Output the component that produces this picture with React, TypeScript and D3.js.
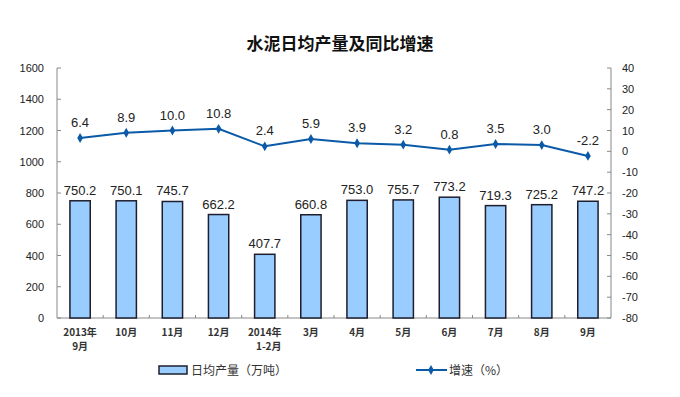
import React from 'react';
import * as d3 from 'd3';

// data
const categories = ['2013年\n9月', '10月', '11月', '12月', '2014年\n1-2月', '3月', '4月', '5月', '6月', '7月', '8月', '9月'];
const output = [750.2, 750.1, 745.7, 662.2, 407.7, 660.8, 753.0, 755.7, 773.2, 719.3, 725.2, 747.2];
const growth = [6.4, 8.9, 10.0, 10.8, 2.4, 5.9, 3.9, 3.2, 0.8, 3.5, 3.0, -2.2];
const leftTicks = [0, 200, 400, 600, 800, 1000, 1200, 1400, 1600];
const rightTicks = [40, 30, 20, 10, 0, -10, -20, -30, -40, -50, -60, -70, -80];

const W = 680;
const H = 397;
const left = 57;
const right = 611;
const top = 68;
const bottom = 318;

const font = 'Arial, "Liberation Sans", sans-serif';
const barFill = '#99ccff';
const lineColor = '#0a5aa8';

const diamond = d3.symbol().type(d3.symbolDiamond).size(28)();

const App = () => {
  const x = d3.scaleBand().domain(categories).range([left, right]).paddingInner(0.56).paddingOuter(0.28);
  const yL = d3.scaleLinear().domain([0, 1600]).range([bottom, top]);
  const yR = d3.scaleLinear().domain([-80, 40]).range([bottom, top]);
  const cx = (c) => x(c) + x.bandwidth() / 2;
  const step = (right - left) / categories.length;

  const line = d3.line()
    .x((d, i) => cx(categories[i]))
    .y((d) => yR(d));

  return (
    <svg width={W} height={H} style={{ position: 'absolute', left: 0, top: 0, background: '#fff' }}>
      <text x={340} y={50} textAnchor="middle" fontSize={17} fontWeight="bold" fontFamily='"Noto Sans CJK SC", sans-serif' fill="#111">
        水泥日均产量及同比增速
      </text>

      {/* axes */}
      <line x1={left} y1={top} x2={left} y2={bottom} stroke="#888" />
      <line x1={right} y1={top} x2={right} y2={bottom} stroke="#888" />
      <line x1={left} y1={bottom} x2={right} y2={bottom} stroke="#888" />
      {leftTicks.map((t) => (
        <g key={'l' + t}>
          <line x1={left} x2={left + 4} y1={yL(t)} y2={yL(t)} stroke="#888" />
          <text x={44} y={yL(t) + 4} textAnchor="end" fontSize={11} fontFamily={font} fill="#222">{t}</text>
        </g>
      ))}
      {rightTicks.map((t) => (
        <g key={'r' + t}>
          <line x1={right - 4} x2={right} y1={yR(t)} y2={yR(t)} stroke="#888" />
          <text x={622} y={yR(t) + 4} textAnchor="start" fontSize={11} fontFamily={font} fill="#222">{t}</text>
        </g>
      ))}
      {categories.slice(1).map((c, i) => (
        <line key={'bt' + i} x1={left + step * (i + 1)} x2={left + step * (i + 1)} y1={bottom} y2={bottom - 3} stroke="#888" />
      ))}

      {/* bars */}
      {output.map((v, i) => (
        <g key={'b' + i}>
          <rect x={x(categories[i])} y={yL(v)} width={x.bandwidth()} height={bottom - yL(v)} fill={barFill} stroke="#1e1e2e" strokeWidth={1.5} />
          <text x={cx(categories[i])} y={yL(v) - 6} textAnchor="middle" fontSize={13} fontFamily={font} fill="#222">{v.toFixed(1)}</text>
        </g>
      ))}

      {/* line */}
      <path d={line(growth)} fill="none" stroke={lineColor} strokeWidth={2} />
      {growth.map((v, i) => (
        <g key={'p' + i}>
          <path d={diamond} transform={`translate(${cx(categories[i])},${yR(v)})`} fill={lineColor} />
          <text x={cx(categories[i])} y={yR(v) - 11} textAnchor="middle" fontSize={13} fontFamily={font} fill="#222">{v.toFixed(1)}</text>
        </g>
      ))}

      {/* category labels */}
      {categories.map((c, i) => (
        <text key={'c' + i} x={cx(c)} y={336} textAnchor="middle" fontSize={10} fontWeight="bold" fontFamily='"Noto Sans CJK SC", sans-serif' fill="#333">
          {c.split('\n').map((s, j) => (
            <tspan key={j} x={cx(c) + (j === 1 && i === 4 ? 4 : 0)} dy={j === 0 ? 0 : 14}>{s}</tspan>
          ))}
        </text>
      ))}

      {/* legend */}
      <rect x={159} y={366} width={28} height={8} fill={barFill} stroke="#1e1e2e" strokeWidth={1.5} />
      <text x={191} y={375} fontSize={12} fontFamily='"Noto Sans CJK SC", sans-serif' fill="#333">日均产量（万吨）</text>
      <line x1={416} x2={447} y1={370} y2={370} stroke={lineColor} strokeWidth={2} />
      <path d={diamond} transform="translate(431,370)" fill={lineColor} />
      <text x={449} y={375} fontSize={12} fontFamily='"Noto Sans CJK SC", sans-serif' fill="#333">增速（%）</text>
    </svg>
  );
};

export default App;
